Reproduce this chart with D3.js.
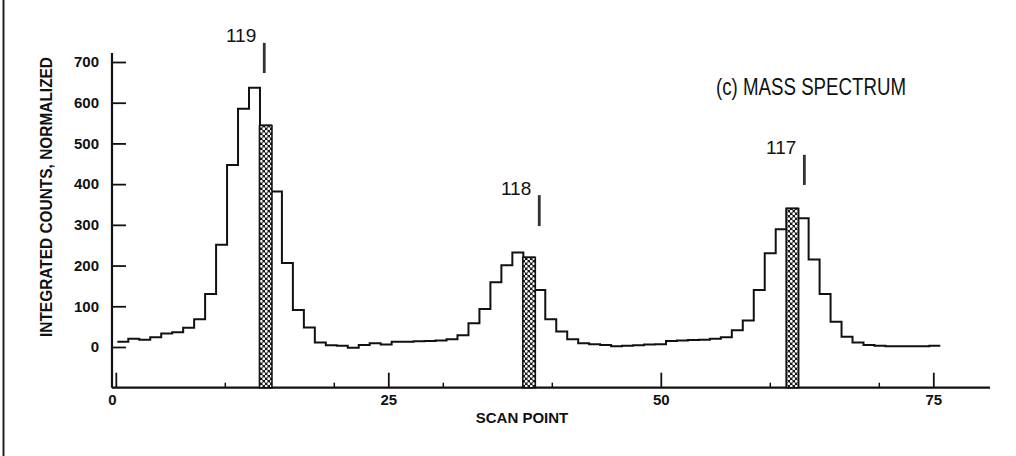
<!DOCTYPE html>
<html>
<head>
<meta charset="utf-8">
<script src="https://cdn.jsdelivr.net/npm/d3@7"></script>
<style>
  html, body { margin: 0; padding: 0; background: #fff; }
  svg { display: block; }
  text { font-family: "Liberation Sans", Arial, Helvetica, sans-serif; fill: #111; }
</style>
</head>
<body>
<svg id="chart" width="1016" height="456"></svg>
<script>
// Scan points of the mass scan (one histogram bin each)
const scanPoints = [
   1,  2,  3,  4,  5,  6,  7,  8,  9, 10, 11, 12, 13, 14, 15,
  16, 17, 18, 19, 20, 21, 22, 23, 24, 25, 26, 27, 28, 29, 30,
  31, 32, 33, 34, 35, 36, 37, 38, 39, 40, 41, 42, 43, 44, 45,
  46, 47, 48, 49, 50, 51, 52, 53, 54, 55, 56, 57, 58, 59, 60,
  61, 62, 63, 64, 65, 66, 67, 68, 69, 70, 71, 72, 73, 74, 75
];

// Integrated counts (normalized) per scan point
const counts = [
   13,  20,  18,  24,  33,  36,  47,  68, 130, 251, 447, 585, 637, 544, 382,
  206,  91,  48,  11,   4,   3,  -2,   5,   9,   6,  13,  13,  14,  15,  16,
   19,  29,  58,  93, 159, 201, 232, 220, 140,  68,  38,  19,   9,   7,   5,
    2,   3,   4,   6,   7,  15,  16,  17,  18,  20,  24,  41,  65, 140, 230,
  289, 340, 316, 215, 130,  62,  25,  11,   5,   3,   2,   2,   2,   2,   3
];

// Scan points selected for each mass (hatched bars)
const selectedPoints = [14, 38, 62];

// Nominal mass positions on the scan axis
const massLabels = ["119", "118", "117"];
const massPositions = [13.62, 38.85, 63.17];
const markerRanges = [[673, 747], [297, 373], [398, 472]];

// Axis ticks
const yTicks = [0, 100, 200, 300, 400, 500, 600, 700];
const xMajorTicks = [0, 25, 50, 75];
const xMinorTicks = [10, 20, 30, 40, 60, 70];

const titleText = "(c) MASS SPECTRUM";
const yLabelText = "INTEGRATED COUNTS, NORMALIZED";
const xLabelText = "SCAN POINT";

// ---- layout ----
const svg = d3.select("#chart");

const x = d3.scaleLinear().domain([0, 75]).range([115.8, 933.3]);
const y = d3.scaleLinear().domain([-100, 700]).range([387.7, 62]);

const xLeft = -0.35, xRight = 80.2, yTop = 722;
// scan-point bins are laid out on the scan axis with a small calibration
const binOrigin = 0.14, binStep = 1.0067;
const binLeft = s => x(binOrigin + (s - 1) * binStep);
const binRight = s => x(binOrigin + s * binStep);

// page edge rule
svg.append("line")
  .attr("x1", 3.5).attr("x2", 3.5).attr("y1", 0).attr("y2", 456)
  .attr("stroke", "#222").attr("stroke-width", 2);

// hatch pattern for selected bars
const defs = svg.append("defs");
const pat = defs.append("pattern")
  .attr("id", "hatch").attr("patternUnits", "userSpaceOnUse")
  .attr("width", 5).attr("height", 5);
pat.append("rect").attr("width", 5).attr("height", 5).attr("fill", "#1a1a1a");
pat.append("circle").attr("cx", 1.25).attr("cy", 1.25).attr("r", 1.4).attr("fill", "#fff");
pat.append("circle").attr("cx", 3.75).attr("cy", 3.75).attr("r", 1.4).attr("fill", "#fff");

// axes
const gY = svg.append("g").attr("transform", `translate(${x(xLeft)},0)`);
gY.call(d3.axisLeft(y).tickValues(yTicks).tickSizeInner(-14).tickSizeOuter(0).tickPadding(13).tickFormat(d3.format("d")));
gY.select(".domain").remove();
gY.append("line")
  .attr("x1", 0).attr("x2", 0).attr("y1", y(-100)).attr("y2", y(yTop))
  .attr("stroke", "#111").attr("stroke-width", 2.2);
gY.selectAll(".tick line").attr("stroke", "#111").attr("stroke-width", 1.8);
gY.selectAll(".tick text")
  .style("font-size", "15px").style("font-weight", "bold")
  .attr("fill", "#111");

const gX = svg.append("g").attr("transform", `translate(0,${y(-100)})`);
gX.call(d3.axisBottom(x).tickValues(xMajorTicks).tickSizeInner(-15).tickSizeOuter(0).tickPadding(7).tickFormat(d3.format("d")));
gX.select(".domain").remove();
gX.selectAll(".tick line").attr("stroke", "#111").attr("stroke-width", 1.8);
gX.selectAll(".tick text")
  .style("font-size", "15px").style("font-weight", "bold")
  .attr("fill", "#111");
gX.selectAll(".tick text").filter(d => d === 0).attr("dx", -4);
const gXm = svg.append("g").attr("transform", `translate(0,${y(-100)})`);
gXm.call(d3.axisBottom(x).tickValues(xMinorTicks).tickSizeInner(-5).tickSizeOuter(0).tickFormat(""));
gXm.select(".domain").remove();
gXm.selectAll(".tick line").attr("stroke", "#111").attr("stroke-width", 1.5);
svg.append("line")
  .attr("x1", x(xLeft)).attr("x2", x(xRight))
  .attr("y1", y(-100)).attr("y2", y(-100))
  .attr("stroke", "#111").attr("stroke-width", 2.2);

// histogram outline
const path = d3.path();
scanPoints.forEach((s, i) => {
  if (i === 0) path.moveTo(binLeft(s), y(counts[i]));
  else path.lineTo(binLeft(s), y(counts[i]));
  path.lineTo(binRight(s), y(counts[i]));
});
svg.append("path")
  .attr("d", path.toString())
  .attr("fill", "none").attr("stroke", "#111").attr("stroke-width", 2)
  .attr("stroke-linejoin", "miter");

// selected scan points as hatched bars
const sel = selectedPoints.map(s => ({ s, v: counts[scanPoints.indexOf(s)] }));
svg.selectAll("rect.sel").data(sel).join("rect")
  .attr("class", "sel")
  .attr("x", d => binLeft(d.s) - 0.5)
  .attr("width", d => binRight(d.s) - binLeft(d.s) + 1.5)
  .attr("y", d => y(d.v))
  .attr("height", d => y(-100) - y(d.v))
  .attr("fill", "url(#hatch)")
  .attr("stroke", "#111").attr("stroke-width", 1.6);

// mass markers and labels
massLabels.forEach((lab, i) => {
  const mx = x(massPositions[i]);
  const [lo, hi] = markerRanges[i];
  svg.append("line")
    .attr("x1", mx).attr("x2", mx).attr("y1", y(hi)).attr("y2", y(lo))
    .attr("stroke", "#333").attr("stroke-width", 2.8);
  svg.append("text")
    .attr("x", mx - 8).attr("y", y(hi) - 0.5)
    .attr("text-anchor", "end")
    .style("font-size", "19px")
    .text(lab);
});

// title
svg.append("text")
  .attr("x", 906).attr("y", 95)
  .attr("text-anchor", "end")
  .style("font-size", "24px")
  .attr("textLength", 190).attr("lengthAdjust", "spacingAndGlyphs")
  .text(titleText);

// axis titles
svg.append("text")
  .attr("transform", `translate(52,${197}) rotate(-90)`)
  .attr("text-anchor", "middle")
  .attr("textLength", 280).attr("lengthAdjust", "spacingAndGlyphs")
  .style("font-size", "16px").style("font-weight", "bold")
  .text(yLabelText);

svg.append("text")
  .attr("x", 522).attr("y", 423)
  .attr("text-anchor", "middle")
  .style("font-size", "15px").style("font-weight", "bold")
  .text(xLabelText);
</script>
</body>
</html>
